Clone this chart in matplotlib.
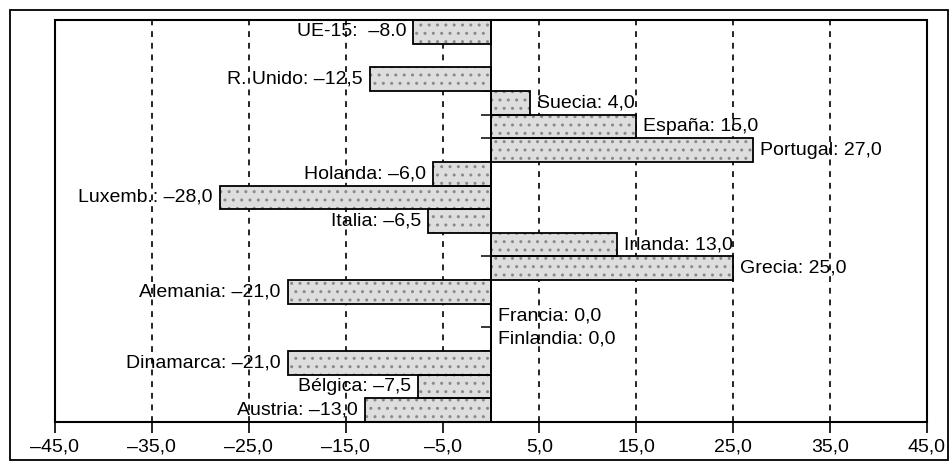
import numpy as np
import matplotlib
matplotlib.use('Agg')
from matplotlib import pyplot as plt
from matplotlib.patches import Rectangle

plt.rcParams['font.family'] = ['Liberation Sans', 'DejaVu Sans']

# categories, top to bottom
paises = ['UE-15', 'R. Unido', 'Suecia', 'España', 'Portugal', 'Holanda',
          'Luxemb.', 'Italia', 'Irlanda', 'Grecia', 'Alemania', 'Francia',
          'Finlandia', 'Dinamarca', 'Bélgica', 'Austria']
valores = [-8.0, -12.5, 4.0, 15.0, 27.0, -6.0, -28.0, -6.5, 13.0, 25.0,
           -21.0, 0.0, 0.0, -21.0, -7.5, -13.0]
xticks = [-45, -35, -25, -15, -5, 5, 15, 25, 35, 45]

# UE-15 sits one empty slot above the countries
ypos = np.array([16] + list(range(14, -1, -1)))

fig = plt.figure(figsize=(9.53, 4.63), dpi=100)
ax = fig.add_axes([0.0577, 0.0886, 0.915, 0.868])

# speckled fill, then black outline on top
ax.barh(ypos, valores, height=1.0, color='#dedede', edgecolor='#8a8a8a',
        hatch='..', linewidth=0, zorder=2)
ax.barh(ypos, valores, height=1.0, fill=False, edgecolor='black',
        linewidth=1.3, zorder=3)

for nombre, v, y in zip(paises, valores, ypos):
    sep = '.' if nombre == 'UE-15' else ','
    gap = '  ' if nombre == 'UE-15' else ' '
    num = ('%.1f' % abs(v)).replace('.', sep)
    txt = nombre + ':' + gap + ('\u2013' if v < 0 else '') + num
    if v < 0:
        ax.annotate(txt, (v, y), xytext=(-5, 0), textcoords='offset points',
                    ha='right', va='center', fontsize=14, zorder=4)
    else:
        ax.annotate(txt, (v, y), xytext=(5, 0), textcoords='offset points',
                    ha='left', va='center', fontsize=14, zorder=4)

ax.set_xlim(-45, 45)
ax.set_ylim(-0.5, 16.5)
ax.set_xticks(xticks)
ax.set_xticklabels([('%.1f' % t).replace('.', ',').replace('-', '\u2013')
                    for t in xticks], fontsize=14)
ax.tick_params(axis='x', direction='out', length=8, width=1.2, pad=4)

# y axis drawn at zero, ticks between the countries
ax.spines['left'].set_position(('data', 0))
ax.set_yticks(np.arange(0.5, 14, 1))
ax.set_yticklabels([])
ax.tick_params(axis='y', direction='out', length=7, width=1.1)
for s in ax.spines.values():
    s.set_linewidth(1.3)
ax.add_patch(Rectangle((0, 0), 1, 1, transform=ax.transAxes, fill=False,
                       edgecolor='black', linewidth=1.5, zorder=5,
                       clip_on=False))

ax.set_axisbelow(True)
ax.grid(axis='x', color='black', linestyle=(0, (3.5, 3.5)), linewidth=1.2)

# outer frame of the figure
fig.patches.append(Rectangle((0.0105, 0.0065), 0.984, 0.9715,
                             transform=fig.transFigure, fill=False,
                             edgecolor='black', linewidth=1.3))

fig.savefig('out.png', dpi=100)
